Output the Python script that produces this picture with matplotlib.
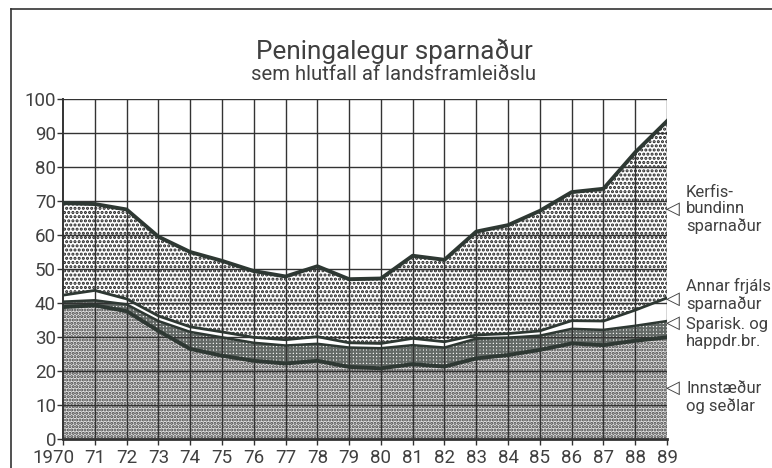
import numpy as np
import matplotlib
matplotlib.use("Agg")
import matplotlib.pyplot as plt
from matplotlib.lines import Line2D
from matplotlib.transforms import ScaledTranslation

# ---- data (percent of GDP) ----
years = list(range(1970, 1990))
xtick_labels = ["1970"] + [f"{y % 100:02d}" for y in years[1:]]
innstaedur = [38.8, 39.3, 37.6, 31.8, 26.5, 24.5, 23.0, 22.2, 23.0, 21.2,
              20.8, 22.0, 21.3, 23.7, 24.7, 26.2, 28.1, 27.6, 28.9, 29.9]
sparisk = [1.6, 1.5, 2.0, 2.9, 5.0, 5.4, 5.3, 5.3, 5.0, 5.7,
           5.9, 5.6, 5.6, 5.8, 5.1, 4.2, 4.3, 4.5, 4.4, 4.8]
annar = [1.9, 2.9, 1.6, 1.5, 1.5, 1.6, 1.6, 1.7, 2.1, 1.4,
         1.4, 2.0, 1.7, 1.1, 1.2, 1.4, 2.4, 2.6, 4.6, 6.8]
kerfis = [27.1, 25.4, 26.3, 23.3, 22.0, 20.9, 19.5, 18.6, 20.7, 18.7,
          19.1, 24.3, 24.1, 30.4, 31.9, 35.3, 37.8, 38.9, 46.4, 52.0]
yticks = list(range(0, 101, 10))

title = "Peningalegur sparnaður"
subtitle = "sem hlutfall af landsframleiðslu"
labels = ["Kerfis-\nbundinn\nsparnaður", "Annar frjáls\nsparnaður",
          "Sparisk. og\nhappdr.br.", "Innstæður\nog seðlar"]

# ---- style ----
FONT = ["Roboto", "DejaVu Sans"]
plt.rcParams["font.family"] = FONT
plt.rcParams["hatch.linewidth"] = 1.5
TXT = "#404040"
LINE = "#2e3833"
FS = 13.5
W = "normal"

fig = plt.figure(figsize=(7.72, 4.68), dpi=100)
ax = fig.add_axes([63 / 772, 29 / 468, 604 / 772, 340 / 468])

x = np.array(years)
b1 = np.array(innstaedur)
b2 = b1 + np.array(sparisk)
b3 = b2 + np.array(annar)
b4 = b3 + np.array(kerfis)

ax.fill_between(x, 0, b1, facecolor="#e2e2e2", edgecolor="#404040",
                hatch=".....", linewidth=0, zorder=1)
ax.fill_between(x, b1, b2, facecolor="white", edgecolor="#646a67",
                hatch="+++++", linewidth=0, zorder=1)
ax.fill_between(x, b2, b3, facecolor="white", linewidth=0, zorder=1)
ax.fill_between(x, b3, b4, facecolor="white", edgecolor="#202020",
                hatch="....", linewidth=0, zorder=1)

# grid
for yv in yticks[1:]:
    ax.axhline(yv, color="#333333", lw=1.0, zorder=2)
for xv in years[1:]:
    ax.axvline(xv, color="#333333", lw=1.0, zorder=2)

# boundary lines
ax.plot(x, b1, color=LINE, lw=2.8, zorder=3, solid_joinstyle="round")
ax.plot(x, b2, color=LINE, lw=1.8, zorder=3, solid_joinstyle="round")
ax.plot(x, b3, color=LINE, lw=2.0, zorder=3, solid_joinstyle="round")
ax.plot(x, b4, color=LINE, lw=2.8, zorder=3, solid_joinstyle="round")

ax.set_xlim(1970, 1989)
ax.set_ylim(0, 100)
ax.set_xticks(years)
ax.set_xticklabels(xtick_labels)
ax.set_yticks(yticks)
ax.tick_params(axis="both", direction="out", length=4, width=1,
               colors="#333333", labelcolor=TXT, labelsize=FS)
ax.tick_params(axis="x", pad=3)
ax.tick_params(axis="y", pad=1)
for lab in ax.get_xticklabels() + ax.get_yticklabels():
    lab.set_fontweight(W)
first = ax.get_xticklabels()[0]
first.set_transform(first.get_transform() +
                    ScaledTranslation(-10 / 100, 0, fig.dpi_scale_trans))
for s in ["top", "right"]:
    ax.spines[s].set_visible(False)
ax.spines["left"].set_linewidth(1.4)
ax.spines["bottom"].set_linewidth(2.0)
ax.spines["left"].set_color("#333333")
ax.spines["bottom"].set_color("#333333")

# right-side labels
lab_y = [67.6, 42.4, 31.2, 12.2]
tri_y = [67.6, 41.2, 34.1, 15.0]
for lab, ly, ty in zip(labels, lab_y, tri_y):
    ax.text(1989.6, ly, lab, ha="left", va="center", fontsize=12,
            fontweight=W, color=TXT, linespacing=1.12, clip_on=False)
    ax.text(1989.2, ty, "◁", ha="center", va="center", fontsize=13,
            family="DejaVu Sans", color=TXT, clip_on=False)

# titles
fig.text(394 / 772, 1 - 51 / 468, title, ha="center", va="center",
         fontsize=18.8, fontweight=W, color=TXT)
fig.text(394 / 772, 1 - 75 / 468, subtitle, ha="center", va="center",
         fontsize=14.6, fontweight=W, color=TXT)

# frame
fig.add_artist(Line2D([11 / 772, 1.0], [1 - 9 / 468, 1 - 9 / 468],
                      transform=fig.transFigure, color="#333333", lw=1.2))
fig.add_artist(Line2D([11 / 772, 11 / 772], [0, 1 - 9 / 468],
                      transform=fig.transFigure, color="#333333", lw=1.2))

fig.savefig("out.png", dpi=100)
